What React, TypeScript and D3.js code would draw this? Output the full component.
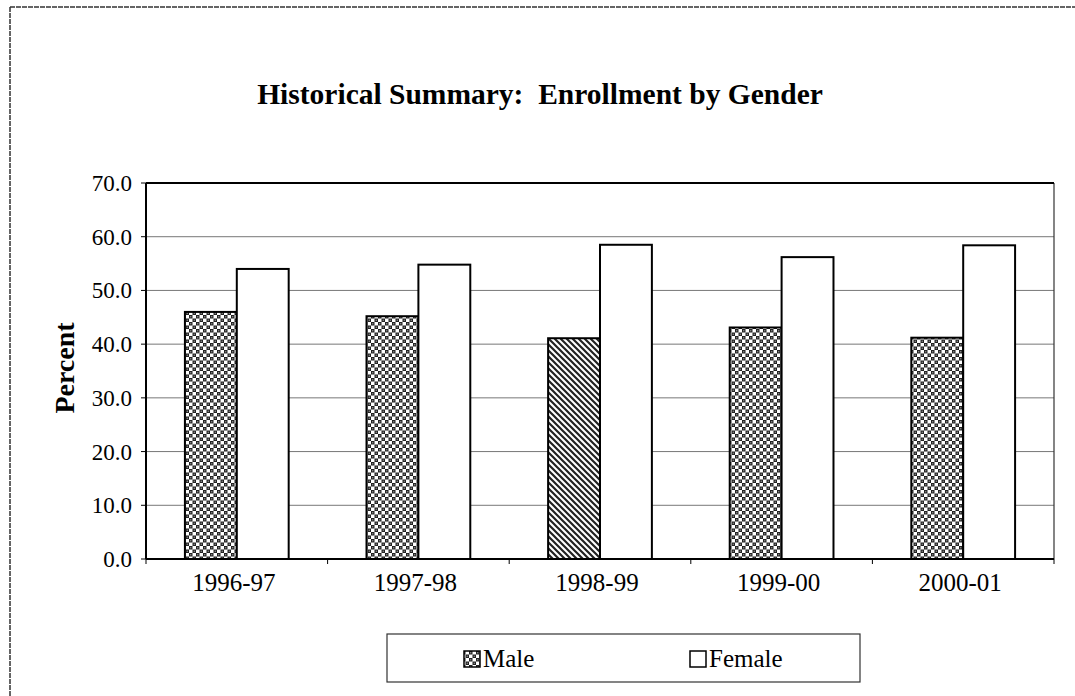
import React from "react";
import * as d3 from "d3";

const categories = ["1996-97", "1997-98", "1998-99", "1999-00", "2000-01"];
const maleValues = [46.0, 45.2, 41.1, 43.1, 41.2];
const femaleValues = [54.0, 54.8, 58.5, 56.2, 58.4];
const yTicks = [0, 10, 20, 30, 40, 50, 60, 70];
const seriesNames = ["Male", "Female"];

const W = 1075;
const H = 696;
const plot = { left: 146, top: 183, right: 1054, bottom: 559 };
const serif = "'Liberation Serif', 'Times New Roman', serif";

export default function App() {
  const x = d3.scaleBand<string>().domain(categories).range([plot.left, plot.right]).padding(0);
  const y = d3.scaleLinear().domain([0, 70]).range([plot.bottom, plot.top]);
  const bw = x.bandwidth() / 3.5;
  const off = bw * 0.75;

  return (
    <svg width={W} height={H} style={{ position: "absolute", left: 0, top: 0, background: "#fff" }} fontFamily={serif}>
      <defs>
        <pattern id="checker" width="7" height="7" patternUnits="userSpaceOnUse">
          <rect width="7" height="7" fill="#fff" />
          <rect x="0" y="0" width="3.5" height="3.5" fill="#222" />
          <rect x="3.5" y="3.5" width="3.5" height="3.5" fill="#222" />
          <circle cx="1.75" cy="1.75" r="0.7" fill="#999" />
          <circle cx="5.25" cy="5.25" r="0.7" fill="#999" />
        </pattern>
        <pattern id="diag" width="6" height="6" patternUnits="userSpaceOnUse">
          <rect width="6" height="6" fill="#fff" />
          <path d="M-1,-1 L7,7 M-1,5 L1,7 M5,-1 L7,1" stroke="#222" strokeWidth="2.2" />
        </pattern>
      </defs>

      {/* outer frame */}
      <line x1={10} y1={7} x2={W} y2={7} stroke="#333" strokeWidth={1.5} strokeDasharray="5,1" />
      <line x1={10} y1={7} x2={10} y2={H} stroke="#333" strokeWidth={1.5} strokeDasharray="5,1" />

      {/* title */}
      <text x={540} y={104} textAnchor="middle" fontSize={29.5} fontWeight="bold" fill="#000">
        Historical Summary:{"\u00a0\u00a0"}Enrollment by Gender
      </text>

      {/* gridlines */}
      {yTicks.map((t) => (
        <line key={"g" + t} x1={plot.left} x2={plot.right} y1={y(t)} y2={y(t)} stroke="#777" strokeWidth={1} />
      ))}

      {/* y ticks and labels */}
      {yTicks.map((t) => (
        <g key={"yt" + t}>
          <line x1={plot.left - 5} x2={plot.left} y1={y(t)} y2={y(t)} stroke="#000" strokeWidth={1} />
          <text x={132} y={y(t)} dy="0.35em" textAnchor="end" fontSize={23} fill="#000">
            {t.toFixed(1)}
          </text>
        </g>
      ))}

      {/* bars */}
      {categories.map((c, i) => {
        const x0 = (x(c) as number) + off;
        return (
          <g key={c}>
            <rect
              x={x0}
              y={y(maleValues[i])}
              width={bw}
              height={y(0) - y(maleValues[i])}
              fill={i === 2 ? "url(#diag)" : "url(#checker)"}
              stroke="#000"
              strokeWidth={2}
            />
            <rect
              x={x0 + bw}
              y={y(femaleValues[i])}
              width={bw}
              height={y(0) - y(femaleValues[i])}
              fill="#fff"
              stroke="#000"
              strokeWidth={2}
            />
          </g>
        );
      })}

      {/* plot frame */}
      <line x1={plot.right} x2={plot.right} y1={plot.top} y2={plot.bottom} stroke="#333" strokeWidth={1.2} />
      <line x1={plot.left} x2={plot.right} y1={plot.top} y2={plot.top} stroke="#000" strokeWidth={2} />
      <line x1={plot.left} x2={plot.left} y1={plot.top} y2={plot.bottom} stroke="#000" strokeWidth={2} />
      <line x1={plot.left} x2={plot.right} y1={plot.bottom} y2={plot.bottom} stroke="#000" strokeWidth={2} />

      {/* x ticks and labels */}
      {[...categories.map((c) => x(c) as number), plot.right].map((p, i) => (
        <line key={"xt" + i} x1={p} x2={p} y1={plot.bottom} y2={plot.bottom + 5} stroke="#000" strokeWidth={1} />
      ))}
      {categories.map((c) => (
        <text key={"xl" + c} x={(x(c) as number) + x.bandwidth() / 2 - 3} y={591} textAnchor="middle" fontSize={25} fill="#000">
          {c}
        </text>
      ))}

      {/* y axis title */}
      <text transform={`translate(74, ${(plot.top + plot.bottom) / 2 - 3}) rotate(-90)`} textAnchor="middle" fontSize={28} fontWeight="bold" fill="#000">
        Percent
      </text>

      {/* legend */}
      <rect x={387} y={634} width={473} height={48} fill="#fff" stroke="#333" strokeWidth={1.2} />
      <rect x={464} y={651} width={16} height={16} fill="url(#checker)" stroke="#000" strokeWidth={1.5} />
      <text x={483} y={667} fontSize={25} fill="#000">{seriesNames[0]}</text>
      <rect x={690} y={651} width={16} height={16} fill="#fff" stroke="#000" strokeWidth={1.5} />
      <text x={709} y={667} fontSize={25} fill="#000">{seriesNames[1]}</text>
    </svg>
  );
}
